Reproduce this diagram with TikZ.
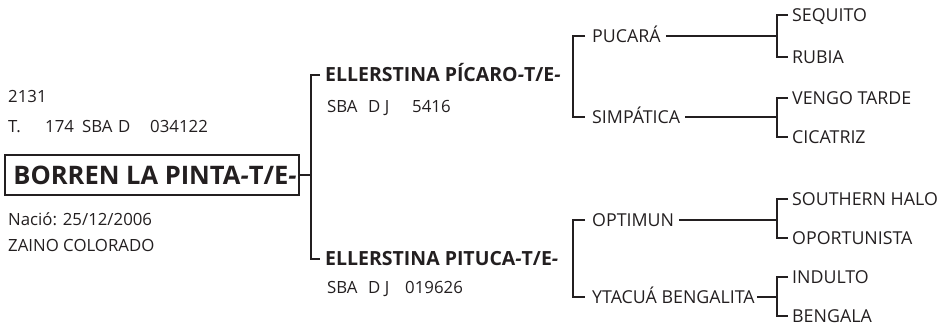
\documentclass[tikz,border=0pt]{standalone}
\usepackage{fontspec}
\setmainfont{Open Sans}
\definecolor{ink}{RGB}{35,31,32}
\newcommand{\slh}{\textit{-}}
\begin{document}
\begin{tikzpicture}[x=1pt,y=-1pt,
  ln/.style={line width=1.1pt, draw=ink},
  lab/.style={anchor=west, inner sep=0pt, text=ink, font=\fontsize{17.8}{20}\selectfont, text height=12.7pt, text depth=0pt},
  info/.style={anchor=west, inner sep=0pt, text=ink, font=\fontsize{16.8}{19}\selectfont, text height=12pt, text depth=0pt},
  dam/.style={anchor=west, inner sep=0pt, text=ink, font=\fontsize{19.5}{22}\bfseries, text height=14pt, text depth=0pt},
  mainbox/.style={draw=ink, line width=1.1pt, inner sep=0pt, minimum width=294pt, minimum height=40pt, text=ink, font=\fontsize{25.5}{30}\bfseries}]
\useasboundingbox (0,0) rectangle (942,328);

% left block
\node[info] (reg) at (8,97) {2131};
\node[info] (tat) at (8,127) {\makebox[37pt][l]{T.}\makebox[37pt][l]{174}\makebox[36pt][l]{SBA}\makebox[32pt][l]{D}034122};
\node[mainbox] (main) at (152,175) {\hspace*{6pt}BORREN LA PINTA\slh T/E\slh};
\node[info] (nac) at (8,220) {Nació: 25/12/2006};
\node[info] (pel) at (8,246) {ZAINO COLORADO};

% level 1
\node[dam] (padre) at (325,75) {ELLERSTINA PÍCARO\slh T/E\slh};
\node[info] (padreid) at (327,107) {\makebox[41pt][l]{SBA}\makebox[44pt][l]{D J}5416};
\node[dam] (madre) at (325,259) {ELLERSTINA PITUCA\slh T/E\slh};
\node[info] (madreid) at (327,288) {\makebox[41pt][l]{SBA}\makebox[37pt][l]{D J}019626};

% level 2
\node[lab] (pucara) at (592,36) {PUCARÁ};
\node[lab] (simpatica) at (592,117) {SIMPÁTICA};
\node[lab] (optimun) at (592,220) {OPTIMUN};
\node[lab] (ytacua) at (592,297) {YTACUÁ BENGALITA};

% level 3
\node[lab] (sequito) at (792,15) {SEQUITO};
\node[lab] (rubia) at (792,57) {RUBIA};
\node[lab] (vengo) at (792,98) {VENGO TARDE};
\node[lab] (cicatriz) at (792,137) {CICATRIZ};
\node[lab] (southern) at (792,199) {SOUTHERN HALO};
\node[lab] (oportunista) at (792,238) {OPORTUNISTA};
\node[lab] (indulto) at (792,277) {INDULTO};
\node[lab] (bengala) at (792,316) {BENGALA};

% connectors level 1
\coordinate (v1) at ([xshift=-14pt]padre.west);
\draw[ln] (main.east) -- (main.east -| v1);
\draw[ln] ([xshift=-5pt]padre.west) -- (v1) |- ([xshift=-5pt]madre.west);

% level 2 brackets
\draw[ln] ([xshift=-7pt]pucara.west) -- ([xshift=-19pt]pucara.west) |- ([xshift=-7pt]simpatica.west);
\draw[ln] ([xshift=-7pt]optimun.west) -- ([xshift=-19pt]optimun.west) |- ([xshift=-7pt]ytacua.west);

% level 3 brackets
\draw[ln] ([xshift=-4pt]sequito.west) -- ([xshift=-15pt]sequito.west) |- ([xshift=-4pt]rubia.west);
\draw[ln] ([xshift=-4pt]vengo.west) -- ([xshift=-15pt]vengo.west) |- ([xshift=-4pt]cicatriz.west);
\draw[ln] ([xshift=-4pt]southern.west) -- ([xshift=-15pt]southern.west) |- ([xshift=-4pt]oportunista.west);
\draw[ln] ([xshift=-4pt]indulto.west) -- ([xshift=-15pt]indulto.west) |- ([xshift=-4pt]bengala.west);

% horizontal links to level 3
\coordinate (v3) at ([xshift=-15pt]sequito.west);
\draw[ln] ([xshift=5pt]pucara.east) -- (pucara.east -| v3);
\draw[ln] ([xshift=5pt]simpatica.east) -- (simpatica.east -| v3);
\draw[ln] ([xshift=5pt]optimun.east) -- (optimun.east -| v3);
\draw[ln] ([xshift=2pt]ytacua.east) -- (ytacua.east -| v3);
\end{tikzpicture}
\end{document}
